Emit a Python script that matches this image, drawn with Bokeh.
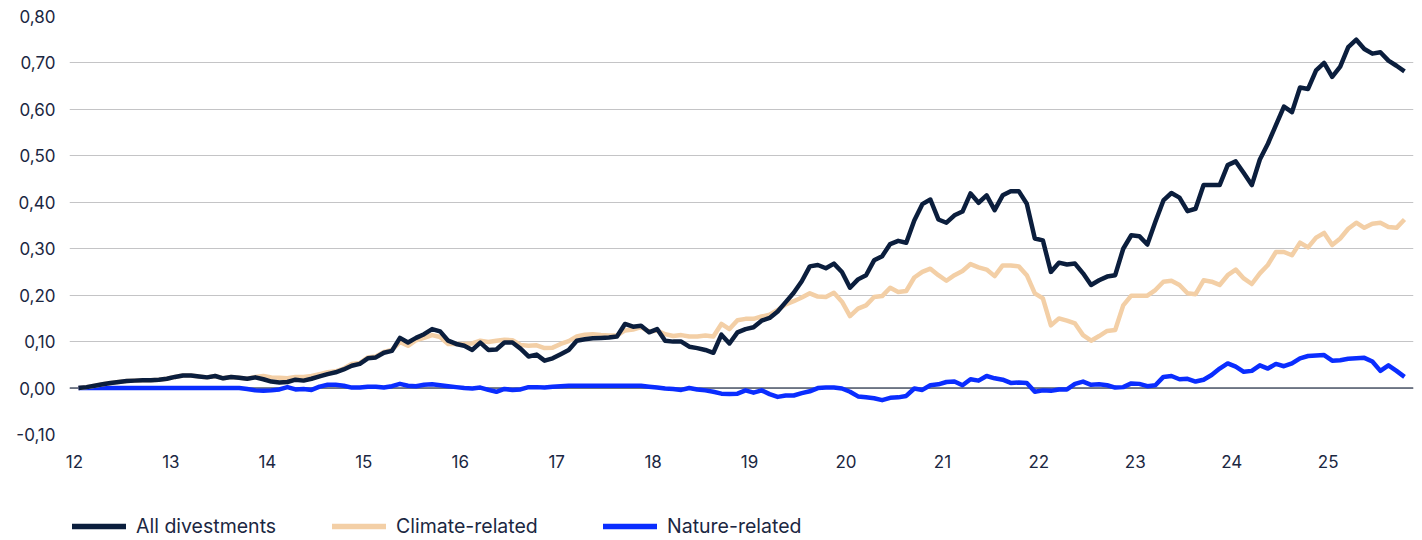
from bokeh.plotting import figure
from bokeh.layouts import column
from bokeh.models import (ColumnDataSource, FixedTicker, CustomJSTickFormatter,
                          Span, Legend, LegendItem, Range1d)
from bokeh.embed import file_html
from bokeh.resources import INLINE

# ---------------- data (monthly, Jan 2012 onwards) ----------------
year_labels = ["12", "13", "14", "15", "16", "17", "18", "19", "20", "21", "22", "23", "24", "25"]

all_divestments = [
    0.000, 0.002, 0.005, 0.008, 0.011, 0.013, 0.015, 0.016, 0.017, 0.017, 0.018, 0.020,
    0.024, 0.027, 0.027, 0.025, 0.023, 0.026, 0.021, 0.024, 0.022, 0.020, 0.023, 0.019,
    0.014, 0.012, 0.013, 0.018, 0.016, 0.020, 0.025, 0.030, 0.034, 0.040, 0.048, 0.052,
    0.064, 0.066, 0.076, 0.080, 0.108, 0.098, 0.108, 0.116, 0.127, 0.122, 0.102, 0.095,
    0.091, 0.082, 0.098, 0.082, 0.083, 0.098, 0.098, 0.085, 0.068, 0.072, 0.059, 0.064,
    0.073, 0.082, 0.102, 0.105, 0.107, 0.108, 0.109, 0.111, 0.138, 0.132, 0.134, 0.120,
    0.127, 0.102, 0.100, 0.100, 0.089, 0.086, 0.082, 0.076, 0.115, 0.096, 0.120, 0.127,
    0.131, 0.145, 0.151, 0.165, 0.185, 0.205, 0.230, 0.262, 0.265, 0.258, 0.268, 0.250,
    0.216, 0.234, 0.243, 0.275, 0.284, 0.310, 0.317, 0.313, 0.361, 0.396, 0.406, 0.363,
    0.356, 0.372, 0.380, 0.419, 0.399, 0.415, 0.383, 0.415, 0.424, 0.424, 0.397, 0.322,
    0.318, 0.250, 0.270, 0.266, 0.268, 0.247, 0.222, 0.232, 0.240, 0.243, 0.300, 0.329,
    0.327, 0.309, 0.358, 0.404, 0.420, 0.410, 0.381, 0.386, 0.437, 0.437, 0.437, 0.480,
    0.488, 0.463, 0.437, 0.492, 0.526, 0.566, 0.606, 0.594, 0.647, 0.644, 0.684, 0.700,
    0.670, 0.692, 0.734, 0.750, 0.730, 0.720, 0.723, 0.705, 0.694, 0.682,
]

climate_related = [
    0.000, 0.002, 0.005, 0.008, 0.011, 0.013, 0.015, 0.016, 0.017, 0.017, 0.018, 0.020,
    0.024, 0.027, 0.027, 0.025, 0.023, 0.026, 0.021, 0.024, 0.022, 0.020, 0.024, 0.026,
    0.023, 0.022, 0.021, 0.024, 0.024, 0.026, 0.030, 0.034, 0.036, 0.042, 0.052, 0.054,
    0.066, 0.068, 0.078, 0.082, 0.099, 0.091, 0.103, 0.108, 0.114, 0.110, 0.095, 0.095,
    0.095, 0.096, 0.102, 0.099, 0.102, 0.104, 0.103, 0.093, 0.091, 0.092, 0.086, 0.087,
    0.095, 0.101, 0.111, 0.115, 0.116, 0.114, 0.113, 0.113, 0.124, 0.126, 0.131, 0.122,
    0.124, 0.116, 0.112, 0.114, 0.111, 0.111, 0.113, 0.111, 0.138, 0.127, 0.146, 0.149,
    0.149, 0.154, 0.158, 0.168, 0.180, 0.187, 0.195, 0.204, 0.197, 0.196, 0.205, 0.186,
    0.155, 0.171, 0.178, 0.196, 0.198, 0.216, 0.207, 0.209, 0.238, 0.250, 0.257, 0.243,
    0.231, 0.243, 0.252, 0.267, 0.260, 0.255, 0.241, 0.264, 0.264, 0.262, 0.243, 0.204,
    0.193, 0.135, 0.150, 0.145, 0.139, 0.114, 0.102, 0.112, 0.123, 0.125, 0.178, 0.199,
    0.199, 0.199, 0.211, 0.229, 0.231, 0.222, 0.204, 0.202, 0.232, 0.229, 0.222, 0.243,
    0.255, 0.236, 0.224, 0.247, 0.265, 0.293, 0.293, 0.286, 0.313, 0.303, 0.324, 0.334,
    0.308, 0.322, 0.343, 0.356, 0.345, 0.354, 0.356, 0.347, 0.345, 0.363,
]

nature_related = [
    0.000, 0.000, 0.000, 0.000, 0.000, 0.000, 0.000, 0.000, 0.000, 0.000, 0.000, 0.000,
    0.000, 0.000, 0.000, 0.000, 0.000, 0.000, 0.000, 0.000, 0.000, -0.002, -0.005, -0.006,
    -0.005, -0.003, 0.002, -0.003, -0.002, -0.004, 0.003, 0.007, 0.007, 0.005, 0.001, 0.001,
    0.003, 0.003, 0.001, 0.004, 0.009, 0.005, 0.004, 0.007, 0.008, 0.006, 0.004, 0.002,
    0.000, -0.001, 0.001, -0.004, -0.008, -0.002, -0.004, -0.003, 0.002, 0.002, 0.001, 0.003,
    0.004, 0.005, 0.005, 0.005, 0.005, 0.005, 0.005, 0.005, 0.005, 0.005, 0.005, 0.003,
    0.001, -0.001, -0.002, -0.004, 0.000, -0.003, -0.005, -0.008, -0.012, -0.013, -0.012, -0.005,
    -0.010, -0.005, -0.013, -0.019, -0.016, -0.016, -0.011, -0.007, 0.000, 0.001, 0.001, -0.001,
    -0.008, -0.018, -0.020, -0.022, -0.026, -0.021, -0.020, -0.017, -0.001, -0.004, 0.006, 0.008,
    0.013, 0.014, 0.006, 0.019, 0.016, 0.026, 0.021, 0.018, 0.011, 0.012, 0.011, -0.008,
    -0.005, -0.006, -0.003, -0.003, 0.009, 0.014, 0.007, 0.008, 0.006, 0.001, 0.002, 0.010,
    0.009, 0.004, 0.006, 0.024, 0.026, 0.019, 0.020, 0.014, 0.018, 0.028, 0.042, 0.053,
    0.046, 0.035, 0.037, 0.049, 0.042, 0.052, 0.047, 0.053, 0.064, 0.069, 0.070, 0.071,
    0.059, 0.060, 0.063, 0.064, 0.065, 0.057, 0.037, 0.049, 0.037, 0.024,
]

series_names = ["All divestments", "Climate-related", "Nature-related"]
y_ticks = [-0.1, 0.0, 0.1, 0.2, 0.3, 0.4, 0.5, 0.6, 0.7, 0.8]

# ---------------- styling ----------------
NAVY = "#0b1e3d"
PEACH = "#f3cfa6"
BLUE = "#0a2dff"
TEXT = "#1b2742"
FONT = "Inter"
series_colors = [NAVY, PEACH, BLUE]

month_index = list(range(len(all_divestments)))
src = ColumnDataSource(dict(x=month_index, all=all_divestments,
                            climate=climate_related, nature=nature_related))

px_per_month = 1326 / (len(month_index) - 1)
x_start = -9 / px_per_month
x_end = (len(month_index) - 1) + 9 / px_per_month

p = figure(frame_width=1344, frame_height=418,
           min_border_left=69, min_border_right=9, min_border_top=16, min_border_bottom=50,
           x_range=Range1d(x_start, x_end), y_range=Range1d(-0.1, 0.8),
           output_backend="svg", toolbar_location=None)

p.outline_line_color = None
p.background_fill_color = "white"
p.border_fill_color = "white"

# grid
p.xgrid.grid_line_color = None
p.ygrid.grid_line_color = "#c4c4c6"
p.ygrid.grid_line_width = 1
p.ygrid.ticker = FixedTicker(ticks=y_ticks)

zero = Span(location=0, dimension="width", line_color="#4f586b", line_width=1.5, level="underlay")
p.add_layout(zero)

# axes
tick_pos = [12 * k - 0.5 for k in range(len(year_labels))]
p.xaxis.ticker = FixedTicker(ticks=tick_pos)
p.xaxis.major_label_overrides = {t: lab for t, lab in zip(tick_pos, year_labels)}
p.yaxis.ticker = FixedTicker(ticks=y_ticks)
p.yaxis.formatter = CustomJSTickFormatter(code="return tick.toFixed(2).replace('.', ',');")

for ax in (p.xaxis[0], p.yaxis[0]):
    ax.axis_line_color = None
    ax.major_tick_line_color = None
    ax.minor_tick_line_color = None
    ax.major_tick_out = 0
    ax.major_tick_in = 0
    ax.major_label_text_font = FONT
    ax.major_label_text_font_size = "17px"
    ax.major_label_text_color = TEXT
p.xaxis.major_label_standoff = 20
p.yaxis.major_label_standoff = 14

# lines
p.line("x", "nature", source=src, line_color=BLUE, line_width=4.5, line_join="round")
p.line("x", "climate", source=src, line_color=PEACH, line_width=4.5, line_join="round")
p.line("x", "all", source=src, line_color=NAVY, line_width=4.5, line_join="round")

# ---------------- legend strip (separate figure below the chart) ----------------
lf = figure(width=1422, height=56, min_border_left=0, min_border_right=0,
            min_border_top=0, min_border_bottom=0,
            x_range=Range1d(0, 1), y_range=Range1d(0, 1),
            output_backend="svg", toolbar_location=None)
lf.axis.visible = False
lf.grid.visible = False
lf.outline_line_color = None
lf.background_fill_color = "white"
lf.border_fill_color = "white"

# legend sample renderers: placed outside the visible range, only their legend swatch shows
legend_x = [3, 263, 534]
for name, color, lx in zip(series_names, series_colors, legend_x):
    r = lf.line(x=[-5, -4], y=[-5, -5], line_color=color, line_width=5.5, line_cap="round")
    lg = Legend(items=[LegendItem(label=name, renderers=[r])],
                location=(lx, 2), orientation="horizontal",
                glyph_width=54, glyph_height=20, label_standoff=10,
                label_text_font=FONT, label_text_font_size="19.5px", label_text_color=TEXT,
                padding=0, margin=0, spacing=0,
                border_line_color=None, background_fill_alpha=0)
    lf.add_layout(lg)

layout = column(p, lf, spacing=0)
open("out.html", "w").write(file_html(layout, INLINE))
